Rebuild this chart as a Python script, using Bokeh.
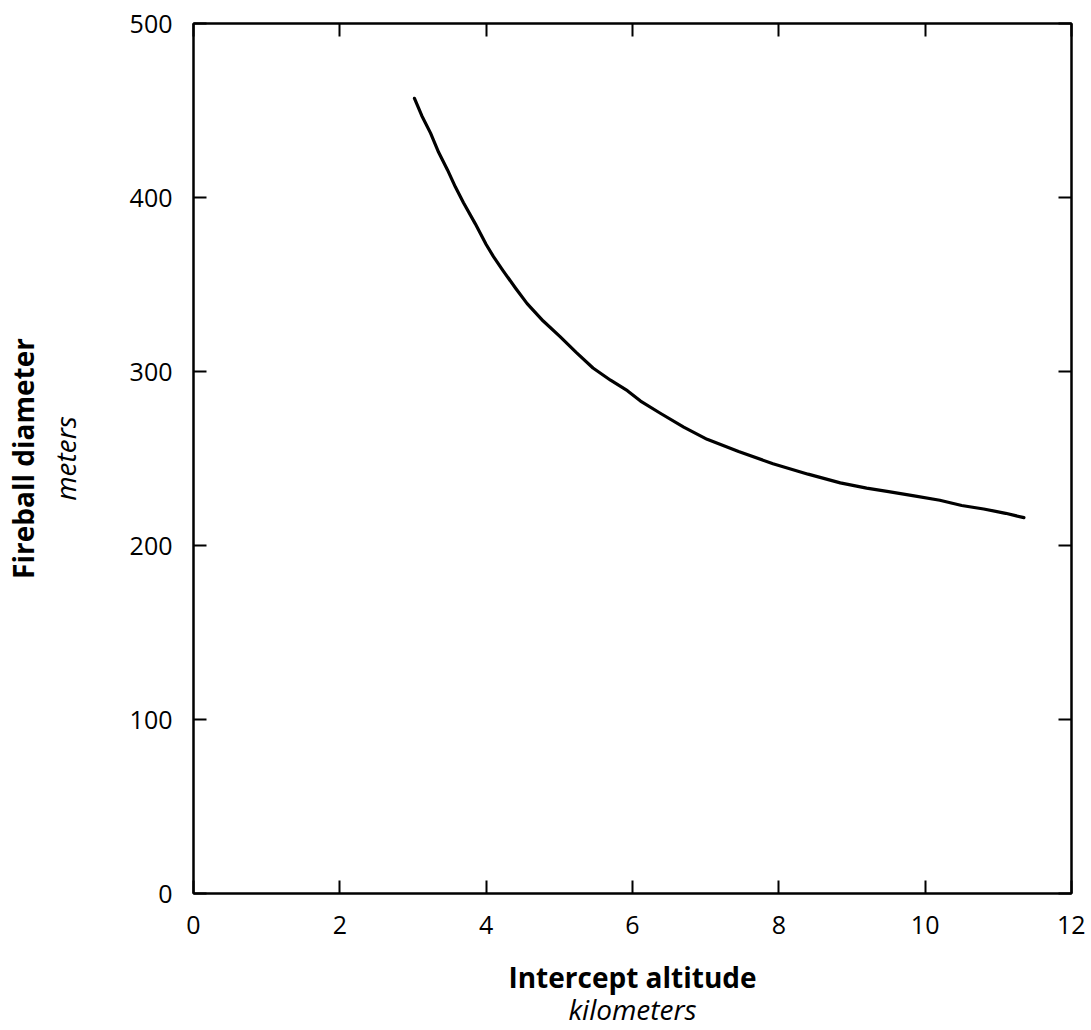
from bokeh.plotting import figure
from bokeh.models import Range1d, LinearAxis, FixedTicker
from bokeh.embed import file_html
from bokeh.resources import INLINE

# Data
altitude_km = [3.02, 3.12, 3.24, 3.35, 3.47, 3.58, 3.69, 3.85, 4.0, 4.1,
               4.23, 4.4, 4.56, 4.78, 5.01, 5.23, 5.46, 5.7, 5.93, 6.11,
               6.38, 6.7, 7.02, 7.45, 7.92, 8.4, 8.84, 9.2, 9.5, 9.85,
               10.2, 10.5, 10.8, 11.1, 11.35]
diameter_m = [457, 447, 437, 426, 416, 406, 397, 385, 373, 366,
              358, 348, 339, 329, 320, 311, 302, 295, 289, 283,
              276, 268, 261, 254, 247, 241, 236, 233, 231, 228.5,
              226, 223, 221, 218.5, 216]
x_ticks = [0, 2, 4, 6, 8, 10, 12]
y_ticks = [0, 100, 200, 300, 400, 500]

FONT = "Open Sans"
TICK_SIZE = "25px"
LABEL_SIZE = "28px"

p = figure(width=1085, height=1030,
           x_range=Range1d(0, 12), y_range=Range1d(0, 500),
           x_axis_location=None, y_axis_location=None,
           output_backend="svg", toolbar_location=None,
           min_border_left=193, min_border_right=14,
           min_border_top=23, min_border_bottom=137)
p.grid.visible = False
p.outline_line_color = "black"
p.outline_line_width = 2
p.background_fill_color = "white"
p.border_fill_color = "white"


def style_axis(ax, ticks, show_labels=True):
    ax.ticker = FixedTicker(ticks=ticks)
    ax.axis_line_color = "black"
    ax.axis_line_width = 2
    ax.major_tick_line_color = "black"
    ax.major_tick_line_width = 2
    ax.major_tick_in = 13
    ax.major_tick_out = 0
    ax.minor_tick_line_color = None
    ax.major_label_text_font = FONT
    ax.major_label_text_color = "black"
    ax.axis_label_text_font = FONT
    ax.axis_label_text_font_size = LABEL_SIZE
    ax.axis_label_text_color = "black"
    if show_labels:
        ax.major_label_text_font_size = TICK_SIZE
        ax.major_label_standoff = 21
    else:
        ax.major_label_text_font_size = "0px"
        ax.major_label_standoff = 0


def label_only_axis(label, style, standoff):
    ax = LinearAxis(ticker=FixedTicker(ticks=[]))
    ax.axis_line_color = None
    ax.major_tick_line_color = None
    ax.minor_tick_line_color = None
    ax.major_tick_in = 0
    ax.major_tick_out = 0
    ax.major_label_text_font_size = "0px"
    ax.major_label_standoff = 0
    ax.axis_label = label
    ax.axis_label_text_font = FONT
    ax.axis_label_text_font_size = LABEL_SIZE
    ax.axis_label_text_font_style = style
    ax.axis_label_text_color = "black"
    ax.axis_label_standoff = standoff
    return ax


# Left: inner axis with ticks + "meters", outer axis "Fireball diameter"
yl = LinearAxis()
style_axis(yl, y_ticks)
yl.axis_label = "meters"
yl.axis_label_text_font_style = "italic"
yl.axis_label_standoff = 43
p.add_layout(yl, "left")
p.add_layout(label_only_axis("Fireball diameter", "bold", 1), "left")

# Bottom: inner axis with ticks + "Intercept altitude", outer "kilometers"
xb = LinearAxis()
style_axis(xb, x_ticks)
xb.major_label_standoff = 22
xb.axis_label = "Intercept altitude"
xb.axis_label_text_font_style = "bold"
xb.axis_label_standoff = 21
p.add_layout(xb, "below")
p.add_layout(label_only_axis("kilometers", "italic", -9), "below")

# Top and right: inward ticks only
xt = LinearAxis()
style_axis(xt, x_ticks, show_labels=False)
p.add_layout(xt, "above")
yr = LinearAxis()
style_axis(yr, y_ticks, show_labels=False)
p.add_layout(yr, "right")

p.line(altitude_km, diameter_m, line_color="black", line_width=3.2,
       line_cap="round", line_join="round")

open("out.html", "w").write(file_html(p, INLINE))
